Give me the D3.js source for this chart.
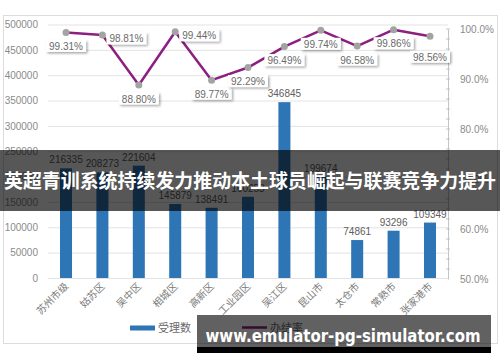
<!DOCTYPE html>
<html>
<head>
<meta charset="utf-8">
<script src="https://cdn.jsdelivr.net/npm/d3@7"></script>
<style>
  body { margin: 0; background: #fff; }
  svg { display: block; font-family: "Liberation Sans", "Open Sans", sans-serif; }
</style>
</head>
<body>
<svg width="500" height="362"></svg>
<script>
// data
var categories = ["苏州市级", "姑苏区", "吴中区", "相城区", "高新区", "工业园区", "吴江区", "昆山市", "太仓市", "常熟市", "张家港市"];
var acceptedCounts = [216335, 208273, 221604, 145879, 138491, 160253, 346845, 199674, 74861, 93296, 109349];
var completionRates = [0.9931, 0.9881, 0.8880, 0.9944, 0.8977, 0.9229, 0.9649, 0.9974, 0.9658, 0.9986, 0.9856];
var leftTicks = [0, 50000, 100000, 150000, 200000, 250000, 300000, 350000, 400000, 450000, 500000];
var rightTicks = [0.5, 0.6, 0.7, 0.8, 0.9, 1.0];
var seriesNames = ["受理数", "办结率"];
var title = "英超青训系统持续发力推动本土球员崛起与联赛竞争力提升";
var site = "www.emulator-pg-simulator.com";

var svg = d3.select("svg");

var defs = svg.append("defs");
var shadow = defs.append("filter").attr("id", "shadow")
    .attr("x", "-20%").attr("y", "-30%").attr("width", "150%").attr("height", "180%");
shadow.append("feDropShadow")
    .attr("dx", 1.5).attr("dy", 1.5).attr("stdDeviation", 1)
    .attr("flood-color", "#000").attr("flood-opacity", 0.35);

// chart frame
svg.append("rect")
    .attr("x", 3.5).attr("y", 15.5)
    .attr("width", 494).attr("height", 328)
    .attr("fill", "#fff")
    .attr("stroke", "#dcdcdc");

var x = d3.scaleBand()
    .domain(categories)
    .range([48, 448])
    .paddingInner(0.67)
    .paddingOuter(0.33);

var yLeft = d3.scaleLinear().domain([0, 500000]).range([278, 24.5]);
var yRight = d3.scaleLinear().domain([0.5, 1.0]).range([279, 29]);

// gridlines + left labels
var leftAxis = svg.append("g")
    .attr("transform", "translate(48,0)")
    .call(d3.axisLeft(yLeft).tickValues(leftTicks).tickSize(-400).tickPadding(10).tickFormat(d3.format("d")));
leftAxis.select(".domain").remove();
leftAxis.selectAll(".tick line").attr("stroke", "#e3e3e3");
leftAxis.selectAll(".tick text")
    .attr("fill", "#8a8a8a")
    .style("font-size", "10px");

// right axis
var rightAxis = svg.append("g")
    .attr("transform", "translate(448,0)")
    .call(d3.axisRight(yRight).tickValues(rightTicks).tickSize(0).tickPadding(12).tickFormat(d3.format(".1%")));
rightAxis.select(".domain").attr("stroke", "#c4c4c4");
rightAxis.selectAll(".tick text")
    .attr("fill", "#8a8a8a")
    .style("font-size", "10px");
rightAxis.selectAll(".minor")
    .data(d3.range(25).map(function(i) { return 0.52 + i * 0.02; }))
    .enter().append("line")
      .attr("x1", -2).attr("x2", 2)
      .attr("y1", function(d) { return yRight(d); })
      .attr("y2", function(d) { return yRight(d); })
      .attr("stroke", "#c4c4c4");

// bars
svg.append("g").selectAll("rect")
    .data(acceptedCounts)
    .enter().append("rect")
      .attr("x", function(d, i) { return x(categories[i]); })
      .attr("y", function(d) { return yLeft(d); })
      .attr("width", x.bandwidth())
      .attr("height", function(d) { return yLeft(0) - yLeft(d); })
      .attr("fill", "#2e75b6");

svg.append("g").selectAll("text")
    .data(acceptedCounts)
    .enter().append("text")
      .attr("x", function(d, i) { return x(categories[i]) + x.bandwidth() / 2; })
      .attr("y", function(d) { return yLeft(d) - 5; })
      .attr("text-anchor", "middle")
      .attr("fill", "#5e5e5e")
      .style("font-size", "10px")
      .text(function(d) { return d; });

// x labels, rotated
svg.append("g").selectAll("text")
    .data(categories)
    .enter().append("text")
      .attr("transform", function(d) {
        return "translate(" + (x(d) + x.bandwidth() / 2 + 3) + ",287) rotate(-45)";
      })
      .attr("text-anchor", "end")
      .attr("fill", "#7a7a7a")
      .style("font-family", "'Noto Sans CJK SC', sans-serif")
      .style("font-size", "10px")
      .text(function(d) { return d; });

// line
var cx = function(i) { return x(categories[i]) + x.bandwidth() / 2; };
var line = d3.line()
    .x(function(d, i) { return cx(i); })
    .y(function(d) { return yRight(d); });

svg.append("path")
    .datum(completionRates)
    .attr("d", line)
    .attr("fill", "none")
    .attr("stroke", "#8c1f80")
    .attr("stroke-width", 2.5)
    .attr("stroke-linejoin", "round");

svg.append("g").selectAll("circle")
    .data(completionRates)
    .enter().append("circle")
      .attr("cx", function(d, i) { return cx(i); })
      .attr("cy", function(d) { return yRight(d); })
      .attr("r", 3.5)
      .attr("fill", "#a3a3a3");

// line value labels in boxes (2nd and 4th sit to the right, rest below)
var rightPlaced = [1, 3];
var fmt = d3.format(".2%");
var lab = svg.append("g").selectAll("g")
    .data(completionRates)
    .enter().append("g")
      .attr("transform", function(d, i) {
        var px = cx(i), py = yRight(d);
        if (rightPlaced.indexOf(i) >= 0) return "translate(" + (px + 24) + "," + (py + 4) + ")";
        return "translate(" + px + "," + (py + (i === 10 ? 21 : 14)) + ")";
      });
lab.append("rect")
    .attr("x", -20).attr("y", -6.5)
    .attr("width", 40).attr("height", 12)
    .attr("fill", "#fff")
    .attr("filter", "url(#shadow)");
lab.append("text")
    .attr("text-anchor", "middle")
    .attr("dy", "0.35em")
    .attr("fill", "#6a6a6a")
    .style("font-size", "10px")
    .text(function(d) { return fmt(d); });

// legend
var legend = svg.append("g").style("font-family", "'Noto Sans CJK SC', sans-serif");
legend.append("rect")
    .attr("x", 130).attr("y", 325.5)
    .attr("width", 25).attr("height", 5)
    .attr("fill", "#2e75b6");
legend.append("text")
    .attr("x", 158).attr("y", 332)
    .attr("fill", "#6a6a6a")
    .style("font-size", "11px")
    .text(seriesNames[0]);
legend.append("line")
    .attr("x1", 242).attr("x2", 267)
    .attr("y1", 327.5).attr("y2", 327.5)
    .attr("stroke", "#8c1f80")
    .attr("stroke-width", 2.5);
legend.append("text")
    .attr("x", 270).attr("y", 332)
    .attr("fill", "#6a6a6a")
    .style("font-size", "11px")
    .text(seriesNames[1]);

// title band over the chart
svg.append("rect")
    .attr("x", 0).attr("y", 150)
    .attr("width", 500).attr("height", 61)
    .attr("fill", "#000")
    .attr("fill-opacity", 0.66);
svg.append("text")
    .attr("x", 250).attr("y", 181)
    .attr("dy", "0.35em")
    .attr("text-anchor", "middle")
    .attr("fill", "#fff")
    .attr("textLength", 492)
    .attr("lengthAdjust", "spacingAndGlyphs")
    .style("font-family", "'Noto Sans CJK SC', sans-serif")
    .style("font-weight", "bold")
    .style("font-size", "19px")
    .text(title);

// site banner
svg.append("rect")
    .attr("x", 197).attr("y", 315)
    .attr("width", 294).attr("height", 32)
    .attr("fill", "#000")
    .attr("fill-opacity", 0.62);
svg.append("rect")
    .attr("x", 197).attr("y", 347)
    .attr("width", 294).attr("height", 6)
    .attr("fill", "#000");
svg.append("text")
    .attr("x", 343).attr("y", 342)
    .attr("text-anchor", "middle")
    .attr("fill", "#fff")
    .attr("textLength", 275)
    .attr("lengthAdjust", "spacingAndGlyphs")
    .style("font-family", "'DejaVu Sans', sans-serif")
    .style("font-weight", "bold")
    .style("font-size", "18px")
    .text(site);
</script>
</body>
</html>
